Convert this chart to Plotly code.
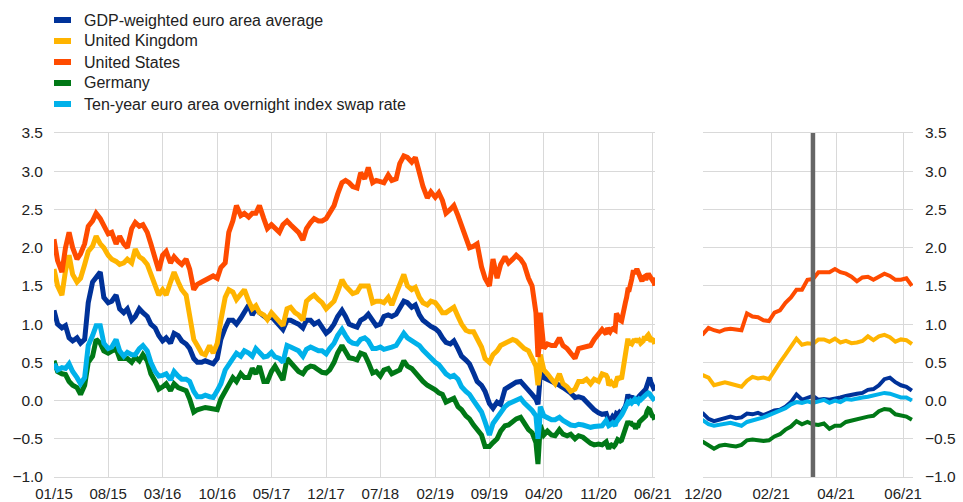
import pandas as pd
import plotly.graph_objects as go

# ---------------- data ----------------
semi_dates = [f"{y}-{m:02d}-{d:02d}" for y in range(2015, 2021) for m in range(1, 13)
              for d in (1, 15) if (y, m) <= (2020, 11)]
extra_dates = ["2020-03-09", "2020-03-18"]
recent_dates = [d.strftime("%Y-%m-%d") for d in pd.date_range("2020-12-01", periods=39, freq="5D")]
dates = sorted(semi_dates + extra_dates) + recent_dates

us_2015 = [2.11, 1.83, 1.68, 2.0, 2.2, 2.0, 1.85, 1.92, 2.05, 2.28, 2.35, 2.45, 2.38, 2.3, 2.18, 2.2, 2.05, 2.15, 2.05, 2.0, 2.25, 2.33, 2.28, 2.3]
us_2016 = [2.2, 2.05, 1.83, 1.7, 1.9, 1.95, 1.8, 1.88, 1.82, 1.78, 1.85, 1.72, 1.45, 1.52, 1.55, 1.58, 1.6, 1.63, 1.6, 1.74, 1.8, 2.2, 2.35, 2.55]
us_2017 = [2.42, 2.45, 2.4, 2.45, 2.45, 2.55, 2.38, 2.25, 2.3, 2.25, 2.2, 2.3, 2.35, 2.3, 2.25, 2.2, 2.1, 2.25, 2.33, 2.38, 2.35, 2.35, 2.38, 2.45]
us_2018 = [2.55, 2.7, 2.85, 2.88, 2.85, 2.8, 2.78, 2.98, 2.9, 3.05, 2.85, 2.88, 2.86, 2.85, 2.95, 2.88, 2.9, 3.1, 3.2, 3.18, 3.12, 3.18, 2.98, 2.8]
us_2019 = [2.65, 2.73, 2.66, 2.72, 2.62, 2.45, 2.5, 2.55, 2.42, 2.3, 2.12, 2.0, 2.02, 2.05, 1.75, 1.6, 1.5, 1.85, 1.6, 1.78, 1.88, 1.8, 1.85, 1.9]
us_2020 = [1.85, 1.78, 1.6, 1.5, 1.15, 0.57, 0.75, 1.15, 0.68, 0.74, 0.72, 0.72, 0.82, 0.72, 0.68, 0.63, 0.55, 0.68, 0.7, 0.7, 0.72, 0.8, 0.87, 0.93]
us_recent = [0.87, 0.95, 0.92, 0.90, 0.93, 0.94, 0.93, 0.92, 1.14, 1.10, 1.09, 1.05, 1.04, 1.15, 1.18, 1.28, 1.35, 1.45, 1.45, 1.58,
             1.59, 1.68, 1.68, 1.68, 1.72, 1.68, 1.66, 1.62, 1.56, 1.61, 1.62, 1.58, 1.62, 1.66, 1.63, 1.58, 1.58, 1.60, 1.50]

uk_2015 = [1.72, 1.5, 1.38, 1.7, 1.9, 1.65, 1.55, 1.6, 1.78, 1.95, 2.02, 2.15, 2.05, 2.0, 1.9, 1.85, 1.82, 1.78, 1.8, 1.85, 1.8, 1.98, 1.88, 1.85]
uk_2016 = [1.78, 1.65, 1.5, 1.38, 1.45, 1.38, 1.55, 1.68, 1.55, 1.45, 1.38, 1.1, 0.8, 0.72, 0.62, 0.6, 0.72, 0.62, 0.75, 1.05, 1.35, 1.45, 1.42, 1.32]
uk_2017 = [1.38, 1.45, 1.3, 1.2, 1.24, 1.15, 1.12, 1.06, 1.15, 1.1, 1.02, 0.98, 1.2, 1.22, 1.15, 1.12, 1.05, 1.3, 1.35, 1.38, 1.32, 1.28, 1.2, 1.25]
uk_2018 = [1.3, 1.42, 1.58, 1.5, 1.45, 1.4, 1.42, 1.5, 1.5, 1.5, 1.28, 1.3, 1.3, 1.28, 1.35, 1.25, 1.4, 1.5, 1.65, 1.5, 1.45, 1.48, 1.35, 1.28]
uk_2019 = [1.25, 1.3, 1.28, 1.22, 1.15, 1.15, 1.18, 1.22, 1.1, 1.0, 0.92, 0.9, 0.9, 0.82, 0.7, 0.55, 0.5, 0.6, 0.65, 0.72, 0.75, 0.78, 0.8, 0.78]
uk_2020 = [0.72, 0.68, 0.65, 0.55, 0.45, 0.2, 0.35, 0.6, 0.4, 0.35, 0.28, 0.22, 0.35, 0.22, 0.18, 0.12, 0.15, 0.25, 0.25, 0.28, 0.22, 0.28, 0.25, 0.35]
uk_recent = [0.33, 0.30, 0.20, 0.22, 0.24, 0.22, 0.20, 0.18, 0.26, 0.31, 0.29, 0.30, 0.28, 0.40, 0.50, 0.60, 0.70, 0.81, 0.73, 0.75,
             0.74, 0.80, 0.80, 0.77, 0.81, 0.76, 0.78, 0.75, 0.76, 0.78, 0.84, 0.79, 0.84, 0.86, 0.83, 0.77, 0.80, 0.79, 0.74]

ea_2015 = [1.18, 1.0, 0.95, 0.98, 0.82, 0.78, 0.82, 0.75, 0.8, 1.28, 1.55, 1.62, 1.68, 1.35, 1.28, 1.3, 1.38, 1.2, 1.15, 1.2, 1.05, 1.1, 1.2, 1.15]
ea_2016 = [1.1, 1.0, 0.95, 0.85, 0.78, 0.82, 0.75, 0.88, 0.85, 0.78, 0.74, 0.68, 0.55, 0.5, 0.5, 0.52, 0.5, 0.48, 0.55, 0.8, 0.95, 1.05, 1.05, 1.0]
ea_2017 = [1.08, 1.15, 1.25, 1.12, 1.2, 1.15, 1.1, 1.07, 1.1, 1.05, 1.0, 0.93, 1.05, 1.05, 1.02, 1.0, 0.95, 1.05, 1.05, 1.0, 1.03, 0.95, 0.88, 0.92]
ea_2018 = [1.0, 1.1, 1.18, 1.1, 1.0, 0.98, 0.96, 1.05, 1.08, 1.13, 1.05, 0.98, 1.0, 1.1, 1.12, 1.1, 1.13, 1.2, 1.3, 1.28, 1.22, 1.25, 1.12, 1.05]
ea_2019 = [1.0, 0.97, 0.94, 0.9, 0.82, 0.76, 0.74, 0.78, 0.68, 0.58, 0.53, 0.48, 0.36, 0.25, 0.2, 0.12, -0.04, -0.1, -0.02, -0.05, 0.15, 0.18, 0.2, 0.24]
ea_2020 = [0.25, 0.2, 0.15, 0.08, 0.02, -0.05, 0.2, 0.42, 0.3, 0.28, 0.25, 0.24, 0.2, 0.17, 0.14, 0.1, 0.04, 0.05, 0.03, -0.02, -0.06, -0.12, -0.16, -0.18]
ea_recent = [-0.17, -0.24, -0.27, -0.25, -0.24, -0.21, -0.23, -0.22, -0.17, -0.18, -0.16, -0.19, -0.16, -0.13, -0.12, -0.08, -0.02, 0.08, 0.01, 0.04,
             0.06, 0.01, 0.02, 0.01, 0.02, 0.04, 0.06, 0.08, 0.09, 0.10, 0.14, 0.15, 0.20, 0.28, 0.30, 0.24, 0.20, 0.18, 0.13]

de_2015 = [0.52, 0.38, 0.35, 0.34, 0.25, 0.2, 0.17, 0.08, 0.2, 0.5, 0.58, 0.8, 0.75, 0.65, 0.62, 0.65, 0.68, 0.55, 0.55, 0.55, 0.5, 0.57, 0.52, 0.6]
de_2016 = [0.52, 0.35, 0.25, 0.15, 0.18, 0.22, 0.13, 0.22, 0.17, 0.15, 0.13, 0.02, -0.15, -0.12, -0.1, -0.09, -0.1, -0.11, -0.12, 0.02, 0.12, 0.2, 0.3, 0.25]
de_2017 = [0.35, 0.3, 0.3, 0.42, 0.35, 0.45, 0.25, 0.25, 0.38, 0.45, 0.35, 0.27, 0.55, 0.5, 0.42, 0.38, 0.35, 0.42, 0.45, 0.44, 0.4, 0.37, 0.36, 0.4]
de_2018 = [0.5, 0.62, 0.72, 0.65, 0.56, 0.55, 0.53, 0.62, 0.6, 0.5, 0.36, 0.38, 0.32, 0.4, 0.42, 0.35, 0.37, 0.4, 0.52, 0.45, 0.42, 0.36, 0.3, 0.25]
de_2019 = [0.2, 0.18, 0.14, 0.1, 0.08, -0.02, 0.0, 0.03, -0.08, -0.12, -0.2, -0.24, -0.32, -0.38, -0.45, -0.6, -0.6, -0.55, -0.5, -0.4, -0.33, -0.32, -0.28, -0.24]
de_2020 = [-0.22, -0.3, -0.38, -0.42, -0.55, -0.83, -0.55, -0.32, -0.45, -0.4, -0.45, -0.46, -0.38, -0.44, -0.46, -0.44, -0.5, -0.46, -0.48, -0.52, -0.56, -0.58, -0.57, -0.58]
de_recent = [-0.54, -0.59, -0.63, -0.59, -0.58, -0.59, -0.60, -0.58, -0.52, -0.51, -0.52, -0.53, -0.52, -0.47, -0.44, -0.38, -0.34, -0.27, -0.31, -0.28,
             -0.31, -0.32, -0.30, -0.37, -0.33, -0.33, -0.28, -0.26, -0.25, -0.22, -0.21, -0.20, -0.14, -0.11, -0.12, -0.18, -0.20, -0.21, -0.25]

ois_2015 = [0.48, 0.4, 0.43, 0.42, 0.48, 0.38, 0.3, 0.22, 0.3, 0.72, 0.85, 0.98, 0.98, 0.75, 0.68, 0.7, 0.8, 0.65, 0.58, 0.63, 0.6, 0.6, 0.68, 0.72]
ois_2016 = [0.65, 0.5, 0.38, 0.32, 0.33, 0.35, 0.27, 0.38, 0.32, 0.28, 0.28, 0.25, 0.12, 0.05, 0.05, 0.07, 0.05, 0.04, 0.13, 0.22, 0.4, 0.48, 0.55, 0.62]
ois_2017 = [0.58, 0.65, 0.62, 0.58, 0.68, 0.62, 0.57, 0.58, 0.63, 0.57, 0.55, 0.5, 0.72, 0.7, 0.68, 0.65, 0.58, 0.67, 0.7, 0.68, 0.65, 0.65, 0.61, 0.68]
ois_2018 = [0.75, 0.85, 0.93, 0.85, 0.78, 0.75, 0.74, 0.8, 0.82, 0.78, 0.68, 0.68, 0.7, 0.67, 0.68, 0.7, 0.72, 0.8, 0.88, 0.82, 0.78, 0.75, 0.72, 0.66]
ois_2019 = [0.6, 0.55, 0.5, 0.47, 0.4, 0.35, 0.31, 0.33, 0.28, 0.18, 0.12, 0.08, 0.0, -0.08, -0.15, -0.28, -0.45, -0.3, -0.22, -0.15, -0.08, -0.04, -0.02, 0.0]
ois_2020 = [0.03, -0.03, -0.08, -0.13, -0.2, -0.5, -0.3, -0.08, -0.2, -0.22, -0.25, -0.25, -0.22, -0.26, -0.29, -0.32, -0.33, -0.31, -0.32, -0.33, -0.35, -0.34, -0.33, -0.33]
ois_recent = [-0.26, -0.31, -0.33, -0.32, -0.30, -0.29, -0.31, -0.33, -0.28, -0.26, -0.25, -0.22, -0.19, -0.16, -0.13, -0.10, -0.05, -0.02, -0.03, -0.01,
              -0.03, -0.01, 0.01, -0.03, 0.00, -0.02, 0.02, 0.01, 0.03, 0.04, 0.05, 0.07, 0.09, 0.10, 0.09, 0.06, 0.04, 0.04, 0.00]

series_names = ["GDP-weighted euro area average", "United Kingdom", "United States", "Germany",
                "Ten-year euro area overnight index swap rate"]
series_values = [
    ea_2015 + ea_2016 + ea_2017 + ea_2018 + ea_2019 + ea_2020 + ea_recent,
    uk_2015 + uk_2016 + uk_2017 + uk_2018 + uk_2019 + uk_2020 + uk_recent,
    us_2015 + us_2016 + us_2017 + us_2018 + us_2019 + us_2020 + us_recent,
    de_2015 + de_2016 + de_2017 + de_2018 + de_2019 + de_2020 + de_recent,
    ois_2015 + ois_2016 + ois_2017 + ois_2018 + ois_2019 + ois_2020 + ois_recent,
]
colors = ["#003299", "#FFB400", "#FF4B00", "#007816", "#00B1EA"]

left_tickvals = ["2015-01-01", "2015-08-01", "2016-03-01", "2016-10-01", "2017-05-01", "2017-12-01",
                 "2018-07-01", "2019-02-01", "2019-09-01", "2020-04-01", "2020-11-01", "2021-06-01"]
left_ticktext = ["01/15", "08/15", "03/16", "10/16", "05/17", "12/17", "07/18", "02/19", "09/19", "04/20", "11/20", "06/21"]
right_tickvals = ["2020-12-01", "2021-02-01", "2021-04-01", "2021-06-01"]
right_ticktext = ["12/20", "02/21", "04/21", "06/21"]
event_date = "2021-03-11"

for v in series_values:
    assert len(v) == len(dates), (len(v), len(dates))

# ---------------- figure ----------------
W, H = 963, 502
ML, MR, MT, MB = 54, 50, 133, 25
PW, PH = W - ML - MR, H - MT - MB


def px_x(p):
    return (p - ML) / PW


def px_y(p):
    return (H - MB - p) / PH


fig = go.Figure()
for name, vals, col in zip(series_names, series_values, colors):
    fig.add_trace(go.Scatter(x=dates, y=vals, name=name, mode="lines",
                             line=dict(color=col, width=5), xaxis="x", yaxis="y",
                             showlegend=False))
for name, vals, col in zip(series_names, series_values, colors):
    fig.add_trace(go.Scatter(x=dates, y=vals, name=name, mode="lines",
                             line=dict(color=col, width=4), xaxis="x2", yaxis="y2",
                             showlegend=False))

grid = "#d9d9d9"
font_tick = dict(family="Arial, Liberation Sans, sans-serif", size=15, color="#222222")
common_x = dict(showgrid=True, gridcolor=grid, gridwidth=1, zeroline=False, showline=True,
                linecolor=grid, linewidth=1, mirror=True, ticks="", tickfont=font_tick,
                ticklabelstandoff=3, automargin=False)
common_y = dict(range=[-1, 3.5], dtick=0.5, tick0=-1, tickformat=".1f", showgrid=True,
                gridcolor=grid, gridwidth=1, zeroline=False, showline=False, ticks="",
                tickfont=dict(font_tick, size=15.5), automargin=False)

fig.update_layout(
    width=W, height=H, margin=dict(l=ML, r=MR, t=MT, b=MB, autoexpand=False),
    paper_bgcolor="white", plot_bgcolor="white",
    xaxis=dict(common_x, domain=[0, px_x(655)], range=["2015-01-01", "2021-06-10"],
               tickmode="array", tickvals=left_tickvals, ticktext=left_ticktext, anchor="y"),
    xaxis2=dict(common_x, domain=[px_x(703), 1], range=["2020-12-01", "2021-06-10"],
                tickmode="array", tickvals=right_tickvals, ticktext=right_ticktext, anchor="y2"),
    yaxis=dict(common_y, anchor="x", ticklabelstandoff=10),
    yaxis2=dict(common_y, anchor="x2", side="right", ticklabelstandoff=11),
    showlegend=False,
)

fig.add_shape(type="line", xref="x2", yref="y2", x0=event_date, x1=event_date, y0=-1, y1=3.5,
              line=dict(color="#666666", width=4.5), layer="above")

# legend (drawn manually to match the short square swatches)
rows = [20, 41, 62, 83, 104]
for name, col, ry in zip(series_names, colors, rows):
    fig.add_shape(type="rect", xref="paper", yref="paper",
                  x0=px_x(54), x1=px_x(71), y0=px_y(ry + 3), y1=px_y(ry - 3),
                  fillcolor=col, line=dict(width=0))
    fig.add_annotation(xref="paper", yref="paper", x=px_x(82), y=px_y(ry), text=name,
                       showarrow=False, xanchor="left", yanchor="middle",
                       font=dict(family="Arial, Liberation Sans, sans-serif", size=16, color="#222222"))

fig.write_html("out.html", config={"displayModeBar": False},
               post_script="document.body.style.margin='0';document.body.style.overflow='hidden';")
